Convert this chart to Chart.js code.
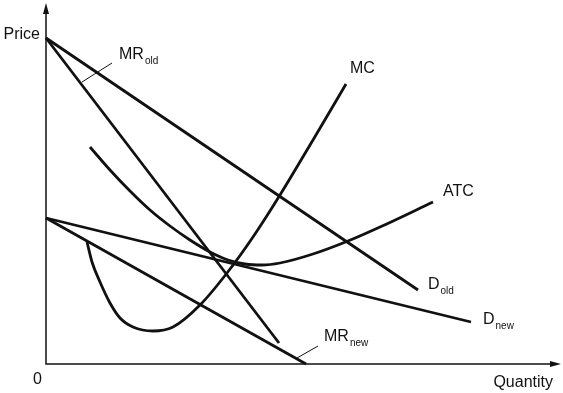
<!DOCTYPE html>
<html>
<head>
<meta charset="utf-8">
<script src="https://cdn.jsdelivr.net/npm/chart.js@4"></script>
<style>
  html, body { margin: 0; padding: 0; background: #fff; }
  #wrap { width: 563px; height: 393px; }
</style>
</head>
<body>
<div id="wrap"><canvas id="chart" width="563" height="393"></canvas></div>
<script>
// values (quantity, price), origin at the axes corner
const dOldQ = [0, 372];
const dOldP = [326, 74];
const mrOldQ = [0, 233];
const mrOldP = [326, 21];
const dNewQ = [0, 425];
const dNewP = [146, 42];
const mrNewQ = [0, 260];
const mrNewP = [146, 0];
const mcQ = [41, 46, 54, 64, 74, 87, 107, 127, 154, 181, 207, 234, 267, 300];
const mcP = [122, 102, 82, 61, 46, 37, 33, 37, 59, 91, 127, 169, 224, 280];
const atcQ = [44, 64, 84, 104, 124, 144, 164, 182, 199, 216, 234, 267, 302, 334, 387];
const atcP = [217, 194, 173, 154, 138, 124, 112, 104, 100, 99, 101, 110, 123, 137, 162];
// leader lines for the MR labels
const mrOldLeaderQ = [36, 66];
const mrOldLeaderP = [282, 301];
const mrNewLeaderQ = [251, 272];
const mrNewLeaderP = [6, 18];

const Q_MAX = 515;
const P_MAX = 361;

const pts = (q, p) => q.map((v, i) => ({ x: v, y: p[i] }));

const curve = (data, smooth) => ({
  data: data,
  showLine: true,
  borderColor: "#111",
  borderWidth: 2.8,
  pointRadius: 0,
  fill: false,
  clip: false,
  cubicInterpolationMode: smooth ? "monotone" : "default",
  tension: 0,
  borderCapStyle: "butt",
});

const leader = (data) => ({
  data: data,
  showLine: true,
  borderColor: "#111",
  borderWidth: 1,
  pointRadius: 0,
  clip: false,
});

// labels: [text, subscript, q, p]
const labels = [
  ["MR", "old", 73, 305],
  ["MC", "", 304, 291],
  ["ATC", "", 397, 168],
  ["D", "old", 382, 75],
  ["D", "new", 437, 40],
  ["MR", "new", 278, 23],
];

const axesPlugin = {
  id: "axes",
  afterDatasetsDraw(chart) {
    const { ctx } = chart;
    const x = chart.scales.x, y = chart.scales.y;
    const x0 = x.getPixelForValue(0), y0 = y.getPixelForValue(0);
    const x1 = x.getPixelForValue(Q_MAX), y1 = y.getPixelForValue(P_MAX);
    ctx.save();
    ctx.strokeStyle = "#111";
    ctx.fillStyle = "#111";
    ctx.lineWidth = 1.5;
    ctx.beginPath();
    ctx.moveTo(x0, y1 + 8);
    ctx.lineTo(x0, y0);
    ctx.lineTo(x1 - 8, y0);
    ctx.stroke();
    ctx.beginPath();
    ctx.moveTo(x0, y1);
    ctx.lineTo(x0 - 3, y1 + 11);
    ctx.lineTo(x0 + 3, y1 + 11);
    ctx.closePath();
    ctx.fill();
    ctx.beginPath();
    ctx.moveTo(x1, y0);
    ctx.lineTo(x1 - 11, y0 - 3);
    ctx.lineTo(x1 - 11, y0 + 3);
    ctx.closePath();
    ctx.fill();

    ctx.textBaseline = "alphabetic";
    ctx.font = "16px 'Liberation Sans', Arial, sans-serif";
    ctx.textAlign = "right";
    ctx.fillText("Price", x0 - 6, y.getPixelForValue(326) + 1);
    ctx.fillText("0", x0 - 4, y0 + 20);
    ctx.fillText("Quantity", x1 - 8, y0 + 23);

    ctx.textAlign = "left";
    labels.forEach(([t, sub, q, p]) => {
      const px = x.getPixelForValue(q), py = y.getPixelForValue(p);
      ctx.font = "16px 'Liberation Sans', Arial, sans-serif";
      ctx.fillText(t, px, py);
      if (sub) {
        const w = ctx.measureText(t).width;
        ctx.font = "10px 'Liberation Sans', Arial, sans-serif";
        ctx.fillText(sub, px + w + 1, py + 5);
      }
    });
    ctx.restore();
  },
};

new Chart(document.getElementById("chart").getContext("2d"), {
  type: "scatter",
  data: {
    datasets: [
      curve(pts(dOldQ, dOldP), false),
      curve(pts(mrOldQ, mrOldP), false),
      curve(pts(dNewQ, dNewP), false),
      curve(pts(mrNewQ, mrNewP), false),
      curve(pts(mcQ, mcP), true),
      curve(pts(atcQ, atcP), true),
      leader(pts(mrOldLeaderQ, mrOldLeaderP)),
      leader(pts(mrNewLeaderQ, mrNewLeaderP)),
    ],
  },
  options: {
    responsive: false,
    animation: false,
    layout: { padding: { left: 46, right: 2, top: 3, bottom: 29 } },
    plugins: { legend: { display: false }, tooltip: { enabled: false } },
    scales: {
      x: { type: "linear", min: 0, max: Q_MAX, display: false },
      y: { type: "linear", min: 0, max: P_MAX, display: false },
    },
  },
  plugins: [axesPlugin],
});
</script>
</body>
</html>
